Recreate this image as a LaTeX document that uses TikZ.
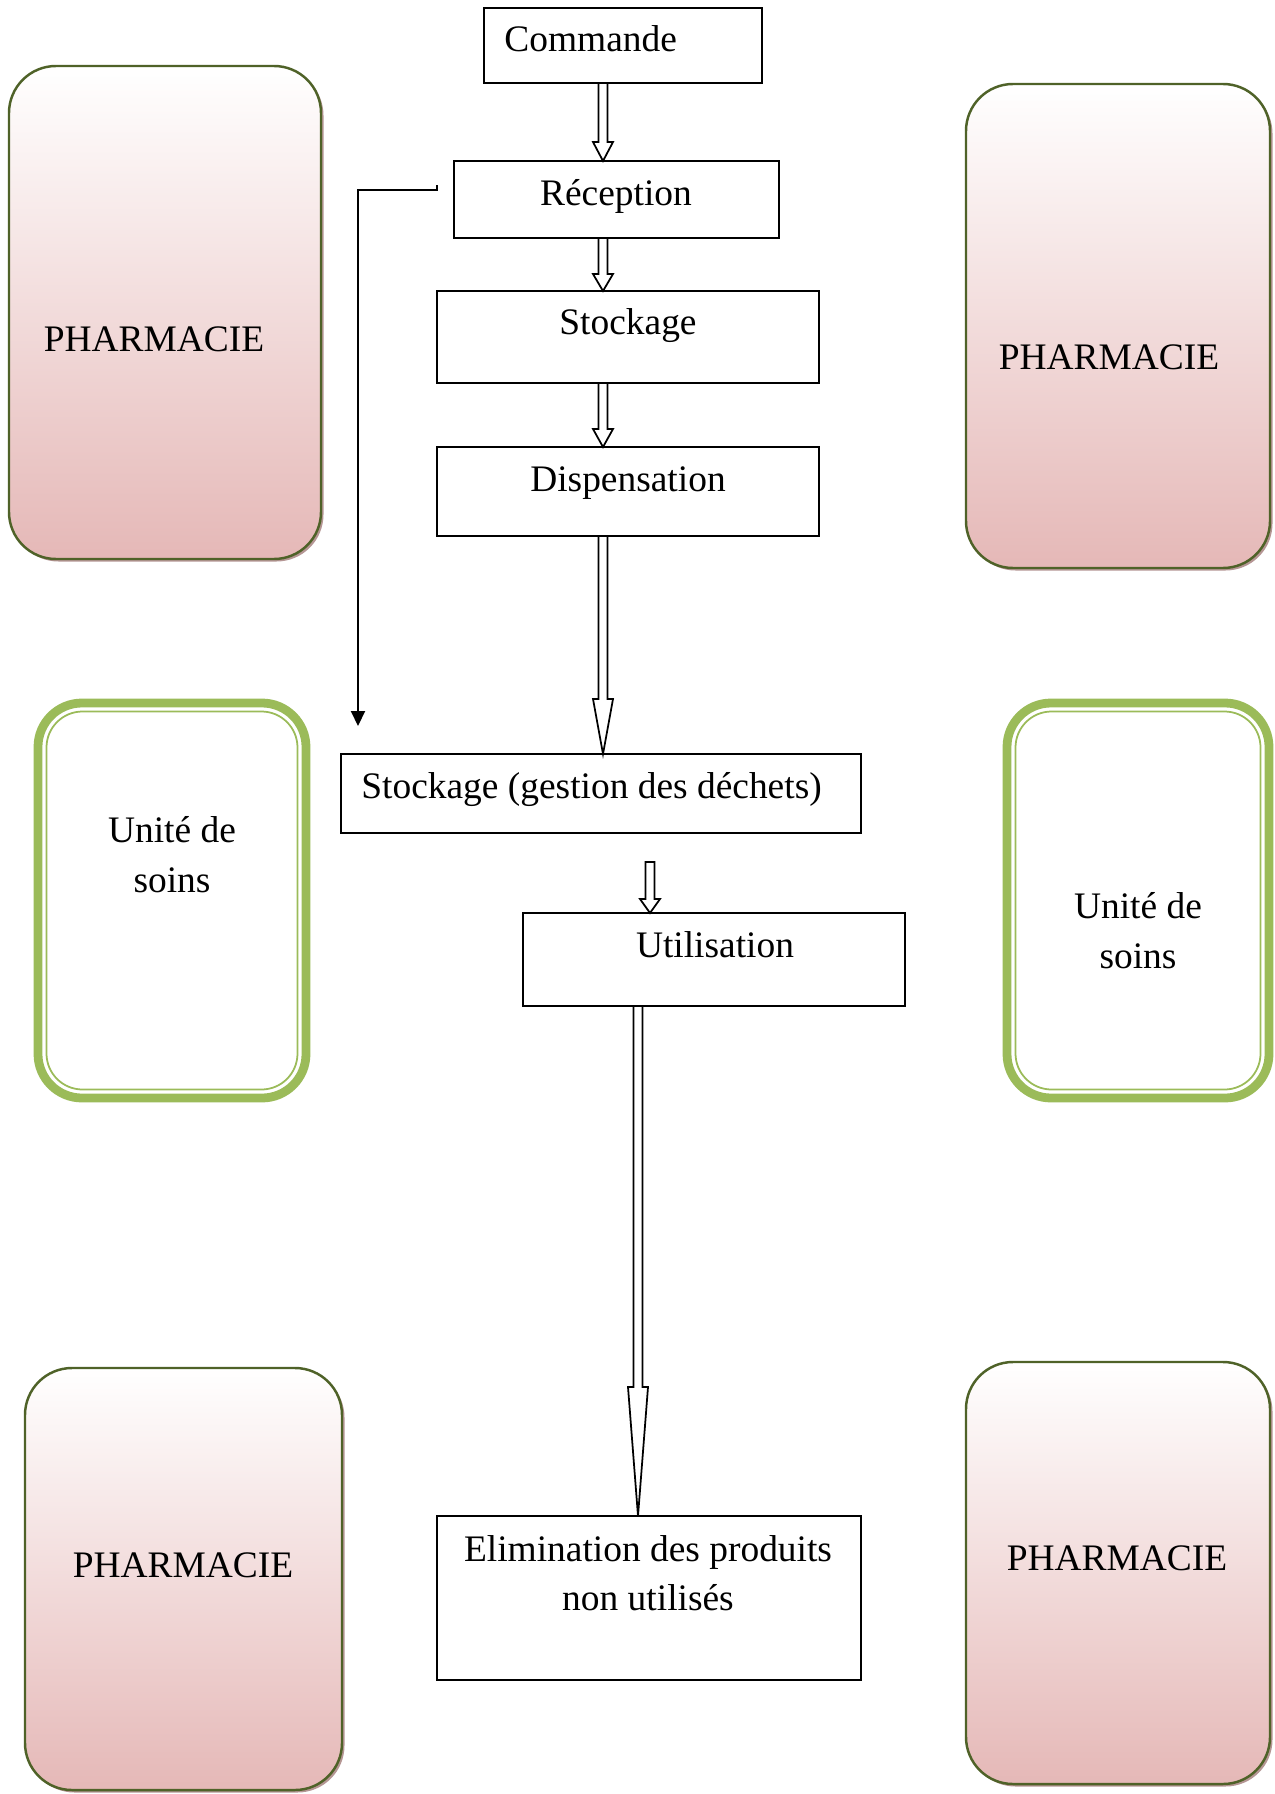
\documentclass[tikz,border=0pt]{standalone}
\usepackage{fontspec}
\setmainfont{Liberation Serif}
\usetikzlibrary{arrows.meta, calc, fit, shadows}
\definecolor{pharmborder}{HTML}{4F6228}
\definecolor{pharmpink}{HTML}{E5B8B7}
\definecolor{pharmshadow}{HTML}{B59694}
\definecolor{soingreen}{HTML}{9BBB59}

% hollow block arrow: start point, target anchor, head length
\newcommand{\blockarrow}[3]{%
  \path #1 coordinate (ba-s);
  \path (ba-s |- #2) coordinate (ba-e);
  \draw[blockline] ($(ba-s)+(-4.5,0)$) -- ($(ba-e)+(-4.5,-#3)$) -- ($(ba-e)+(-10,-#3)$)
    -- (ba-e) -- ($(ba-e)+(10,-#3)$) -- ($(ba-e)+(4.5,-#3)$) -- ($(ba-s)+(4.5,0)$) -- cycle;}

\begin{document}
\begin{tikzpicture}[x=0.02cm, y=-0.02cm,
  every node/.style={font=\fontsize{21.3pt}{27.9pt}\selectfont},
  procbox/.style={draw, line width=1pt, inner sep=0pt, outer sep=0pt},
  boxtext/.style={anchor=base, inner sep=0pt},
  pharmbox/.style={draw=pharmborder, line width=1.4pt, rounded corners=0.94cm, inner sep=0pt, outer sep=0pt,
    top color=white, bottom color=pharmpink,
    drop shadow={shadow xshift=0.05cm, shadow yshift=-0.05cm, fill=pharmshadow, opacity=1}},
  soinbox/.style={draw=soingreen, line width=5pt, rounded corners=0.88cm, inner sep=0pt, outer sep=0pt},
  soinline/.style={draw=soingreen, line width=1pt, rounded corners=0.72cm},
  blockline/.style={line width=1pt, fill=white},
  backline/.style={line width=1.2pt, -{Triangle[length=0.3cm, width=0.28cm]}}]
\path[use as bounding box, fill=white] (0,0) rectangle (1274,1794);

% pharmacie
\node[pharmbox, fit={(9,66) (321,559)}] (pharm-tl) {};
\node[boxtext] (pharm-tl-txt) at (154,352) {PHARMACIE};
\node[pharmbox, fit={(966,84) (1270,568)}] (pharm-tr) {};
\node[boxtext] (pharm-tr-txt) at (1109,369) {PHARMACIE};
\node[pharmbox, fit={(25,1368) (342,1790)}] (pharm-bl) {};
\node[boxtext] (pharm-bl-txt) at (183,1577) {PHARMACIE};
\node[pharmbox, fit={(966,1362) (1270,1784)}] (pharm-br) {};
\node[boxtext] (pharm-br-txt) at (1117,1570) {PHARMACIE};

% unites de soins (anchor base = last line)
\node[soinbox, fit={(38,703) (306,1098)}] (soins-l) {};
\draw[soinline] ($(soins-l.north west)+(8.5,8.5)$) rectangle ($(soins-l.south east)+(-8.5,-8.5)$);
\node[boxtext, align=center] (soins-l-txt) at (172,892) {Unité de\\soins};
\node[soinbox, fit={(1007,703) (1269,1098)}] (soins-r) {};
\draw[soinline] ($(soins-r.north west)+(8.5,8.5)$) rectangle ($(soins-r.south east)+(-8.5,-8.5)$);
\node[boxtext, align=center] (soins-r-txt) at (1138,968) {Unité de\\soins};

% circuit
\node[procbox, fit={(484,8) (762,83)}] (cmd) {};
\node[boxtext, anchor=base west] (cmd-txt) at (504,52) {Commande};
\node[procbox, fit={(454,161) (779,238)}] (recep) {};
\node[boxtext] (recep-txt) at (616,206) {Réception};
\node[procbox, fit={(437,291) (819,383)}] (stock) {};
\node[boxtext] (stock-txt) at (628,335) {Stockage};
\node[procbox, fit={(437,447) (819,536)}] (disp) {};
\node[boxtext] (disp-txt) at (628,491) {Dispensation};
\node[procbox, fit={(341,754) (861,833)}] (dechets) {};
\node[boxtext, anchor=base west] (dechets-txt) at (361,798) {Stockage (gestion des déchets)};
\node[procbox, fit={(523,913) (905,1006)}] (util) {};
\node[boxtext] (util-txt) at (715,957) {Utilisation};
\node[procbox, fit={(437,1516) (861,1680)}] (elim) {};
\node[boxtext, align=center] (elim-txt) at (648,1610) {Elimination des produits\\non utilisés};

\blockarrow{($(cmd.south)+(-20,0)$)}{recep.north}{19}
\blockarrow{($(recep.south)+(-13.5,0)$)}{stock.north}{17}
\blockarrow{($(stock.south)+(-25,0)$)}{disp.north}{18}
\blockarrow{($(disp.south)+(-25,0)$)}{dechets.north}{55}
\coordinate (util-in) at (650,862);
\blockarrow{(util-in)}{util.north}{14}
\blockarrow{($(util.south)+(-76,0)$)}{elim.north}{129}

\coordinate (back-end) at (358,726);
\draw[backline] ($(recep.west)+(-17,-14)$) |- ($(recep.west)+(-96,-9.5)$) -- (back-end);
\end{tikzpicture}
\end{document}
